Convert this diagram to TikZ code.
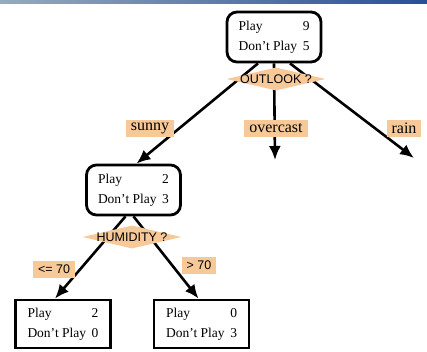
\documentclass[tikz,border=0pt]{standalone}
\usepackage{fontspec}
\setmainfont{Liberation Serif}
\newfontfamily\labelsans{Liberation Sans}
\usepackage{tikz}
\usetikzlibrary{shapes.geometric,arrows.meta}
\definecolor{peach}{RGB}{248,201,152}
\definecolor{stripgrey}{RGB}{150,170,190}
\definecolor{stripblue}{RGB}{40,80,150}
\newcommand{\counts}[2]{\begin{tabular*}{71pt}{@{}l@{\extracolsep{\fill}}r@{}}Play & #1\\[4pt] Don't Play & #2\end{tabular*}}

\begin{document}
\begin{tikzpicture}[x=1pt,y=-1pt]
    %styles
    \tikzstyle{split}=[rectangle,draw,rounded corners=10pt,line width=2.8pt,minimum width=94pt,minimum height=50pt,inner sep=0pt,font=\fontsize{13.5}{16}\selectfont]
    \tikzstyle{leaf}=[rectangle,draw,line width=2.8pt,minimum width=95pt,minimum height=48pt,inner sep=0pt,font=\fontsize{13.5}{16}\selectfont]
    \tikzstyle{test}=[diamond,fill=peach,aspect=4.5,inner sep=-1.5pt,minimum width=99pt,minimum height=23pt,font=\labelsans\fontsize{12.5}{14}\selectfont]
    \tikzstyle{cond}=[rectangle,fill=peach,inner xsep=5pt,inner ysep=0pt,minimum height=17pt,font=\fontsize{16}{18}\selectfont]
    \tikzstyle{sanscond}=[cond,font=\labelsans\fontsize{12.5}{14}\selectfont]
    \tikzstyle{branch}=[-{Latex[length=14pt,width=12pt]},line width=2.6pt]
    \useasboundingbox (0,0) rectangle (427,351);
    \shade[left color=stripgrey,right color=stripblue] (0,0) rectangle (427,3);
    %nodes
    \node[split] (root) at (274,37) {\counts{9}{5}};
    \node[split] (hum) at (133.5,190) {\counts{2}{3}};
    \node[leaf] (lo) at (63,324) {\counts{2}{0}};
    \node[leaf] (hi) at (201.5,324) {\counts{0}{3}};
    \coordinate (ovc) at (275,160);
    \coordinate (rn) at (414,158);

    %arraws
    \draw[branch] ([xshift=-16pt]root.south)--([xshift=3pt]hum.north);
    \draw[branch] (root.south)--(ovc);
    \draw[branch] ([xshift=16pt]root.south)--(rn);
    \draw[branch] ([xshift=-8pt]hum.south)--([xshift=-8pt]lo.north);
    \draw[branch] (hum.south)--([xshift=-3pt]hi.north);

    %tests and branch labels
    \node[test] (outlook) at (276,79) {OUTLOOK ?};
    \node[test] (humidity) at (132,237) {HUMIDITY ?};
    \node[cond] (sunny) at (150,128) {sunny};
    \node[cond] (overcast) at (276,128) {overcast};
    \node[cond] (rain) at (404,128) {rain};
    \node[sanscond] (le70) at (54,269) {<= 70};
    \node[sanscond] (gt70) at (199,265) {> 70};
\end{tikzpicture}
\end{document}
